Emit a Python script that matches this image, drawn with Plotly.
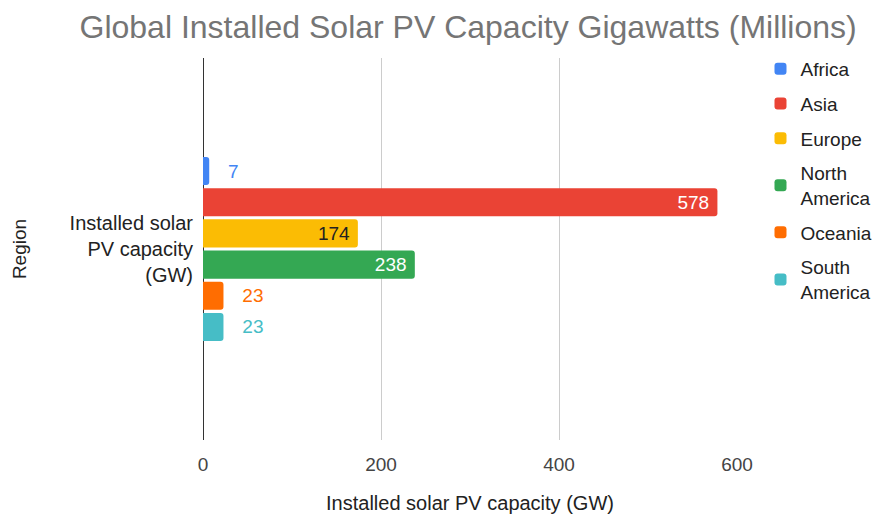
import plotly.graph_objects as go

category_label = "Installed solar<br>PV capacity<br>(GW)"
regions = ["Africa", "Asia", "Europe", "North America", "Oceania", "South America"]
legend_names = ["Africa", "Asia", "Europe", "North<br>America", "Oceania", "South<br>America"]
values = [7, 578, 174, 238, 23, 23]
x_ticks = [0, 200, 400, 600]
colors = ["#4285F4", "#EA4335", "#FBBC04", "#34A853", "#FF6D01", "#46BDC6"]
inside_text_colors = ["#ffffff", "#ffffff", "#222222", "#ffffff", "#ffffff", "#ffffff"]

FONT = "Liberation Sans, Arial, sans-serif"
NB = "\u00a0"

fig = go.Figure()
for name, lname, v, c, itc in zip(regions, legend_names, values, colors, inside_text_colors):
    inside = v > 100
    txt = (str(v) + NB) if inside else (NB * 3 + str(v))
    fig.add_trace(go.Bar(
        y=[category_label], x=[v], name=lname, orientation="h",
        marker=dict(color=c, line=dict(width=0)),
        text=[txt], textposition="inside" if inside else "outside",
        insidetextanchor="end",
        insidetextfont=dict(color=itc, size=19, family=FONT),
        outsidetextfont=dict(color=c, size=19, family=FONT),
        cliponaxis=False,
        legendgroup=name,
        hoverinfo="x+name",
    ))

fig.update_layout(
    width=875, height=515,
    margin=dict(l=203, r=138, t=58, b=75, pad=0, autoexpand=False),
    paper_bgcolor="white", plot_bgcolor="white",
    font=dict(family=FONT, size=19, color="#222222"),
    title=dict(text="Global Installed Solar PV Capacity Gigawatts (Millions)",
               x=0.535, xanchor="center", y=0.9476, yanchor="middle",
               font=dict(size=32, color="#757575", family=FONT)),
    barmode="group", bargap=0.51, bargroupgap=0.1, barcornerradius=3,
    legend=dict(x=1.044, xanchor="left", y=1.021, yanchor="top",
                traceorder="grouped", tracegroupgap=7,
                font=dict(size=19, color="#222222", family=FONT),
                bgcolor="rgba(0,0,0,0)"),
    xaxis=dict(range=[0, 600], tickvals=x_ticks, automargin=False,
               showgrid=True, gridcolor="#cccccc", gridwidth=1,
               zeroline=True, zerolinecolor="#333333", zerolinewidth=1,
               showline=False, ticks="outside", ticklen=7,
               tickcolor="rgba(0,0,0,0)",
               tickfont=dict(size=19, color="#444444"),
               title=dict(text="Installed solar PV capacity (GW)", standoff=22,
                          font=dict(size=20, color="#222222"))),
    yaxis=dict(type="category", autorange="reversed", showgrid=False,
               automargin=False,
               zeroline=False, showline=False, ticks="outside", ticklen=5,
               tickcolor="rgba(0,0,0,0)",
               tickfont=dict(size=20, color="#222222"),
               title=dict(text="Region", standoff=37,
                          font=dict(size=19, color="#222222"))),
)

fig.write_html("out.html",
               config={"displayModeBar": False},
               post_script="document.body.style.margin='0';document.body.style.overflow='hidden';")
